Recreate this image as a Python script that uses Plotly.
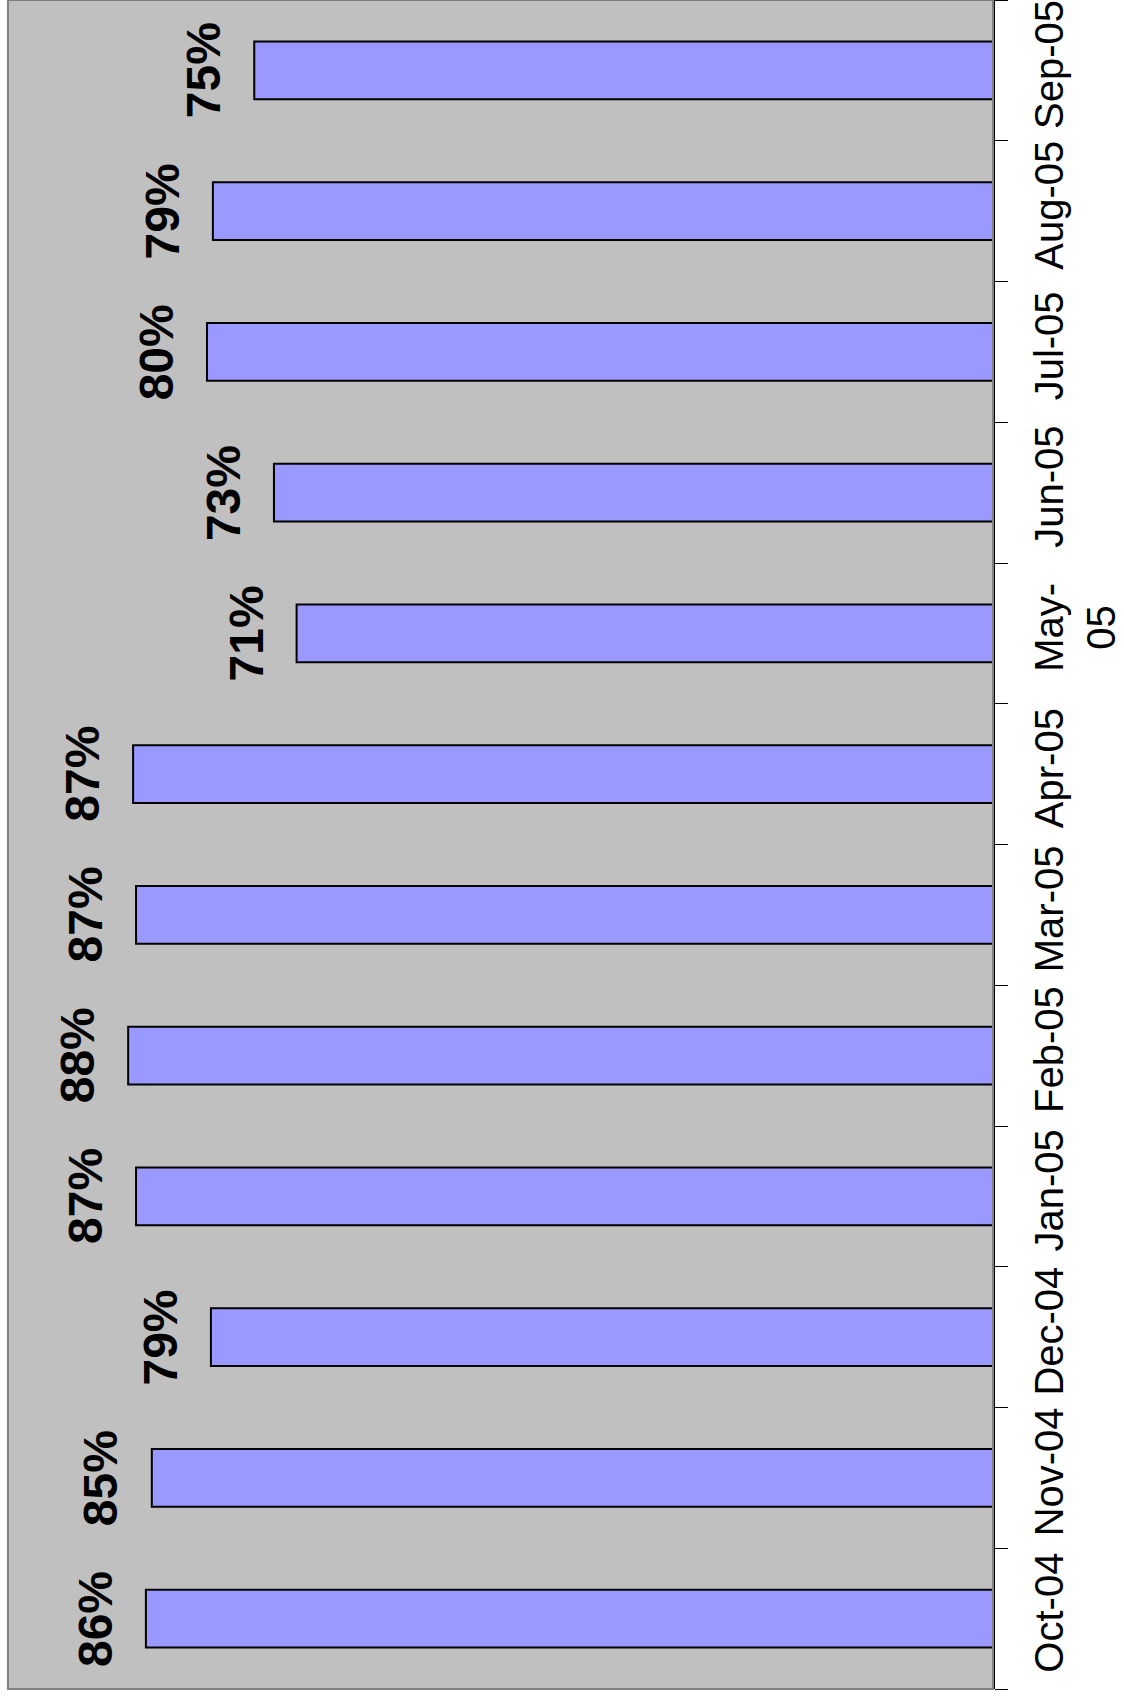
import plotly.graph_objects as go

months = ["Oct-04", "Nov-04", "Dec-04", "Jan-05", "Feb-05", "Mar-05",
          "Apr-05", "May-05", "Jun-05", "Jul-05", "Aug-05", "Sep-05"]
tick_text = ["Oct-04", "Nov-04", "Dec-04", "Jan-05", "Feb-05", "Mar-05",
             "Apr-05", "May-<br>05", "Jun-05", "Jul-05", "Aug-05", "Sep-05"]
values = [0.860, 0.854, 0.794, 0.870, 0.878, 0.870,
          0.873, 0.707, 0.730, 0.798, 0.792, 0.750]
labels = [f"{round(v * 100)}%" for v in values]

FONT = "Liberation Sans, Arial, sans-serif"

fig = go.Figure()
fig.add_trace(go.Bar(
    x=values, y=months, orientation="h",
    marker=dict(color="#9999FF", line=dict(color="black", width=2)),
    hoverinfo="skip",
))

for v, m, t in zip(values, months, labels):
    fig.add_annotation(
        x=v, y=m, text=f"<b>{t}</b>", showarrow=False, textangle=-90,
        xanchor="right", yanchor="middle", xshift=-22,
        font=dict(family=FONT, size=48, color="black"),
    )

fig.add_shape(type="rect", xref="paper", yref="paper", x0=0, x1=1, y0=0, y1=1,
              line=dict(color="#808080", width=2), layer="above")

fig.update_layout(
    width=1124, height=1697,
    margin=dict(l=8, r=131, t=0, b=8),
    paper_bgcolor="white", plot_bgcolor="#C0C0C0",
    bargap=0.59, showlegend=False,
    xaxis=dict(range=[1.0, 0], showgrid=False, zeroline=False,
               showticklabels=False, ticks="", showline=False, fixedrange=True),
    yaxis=dict(side="right", type="category", categoryorder="array",
               categoryarray=months, tickvals=months, ticktext=tick_text,
               tickangle=-90, ticks="outside", ticklen=13, tickwidth=1,
               tickcolor="black", tickson="boundaries",
               showline=True, linecolor="black", linewidth=2,
               showgrid=False, zeroline=False,
               tickfont=dict(family=FONT, size=40, color="black"),
               ticklabelstandoff=20),
)

fig.write_html("out.html")
